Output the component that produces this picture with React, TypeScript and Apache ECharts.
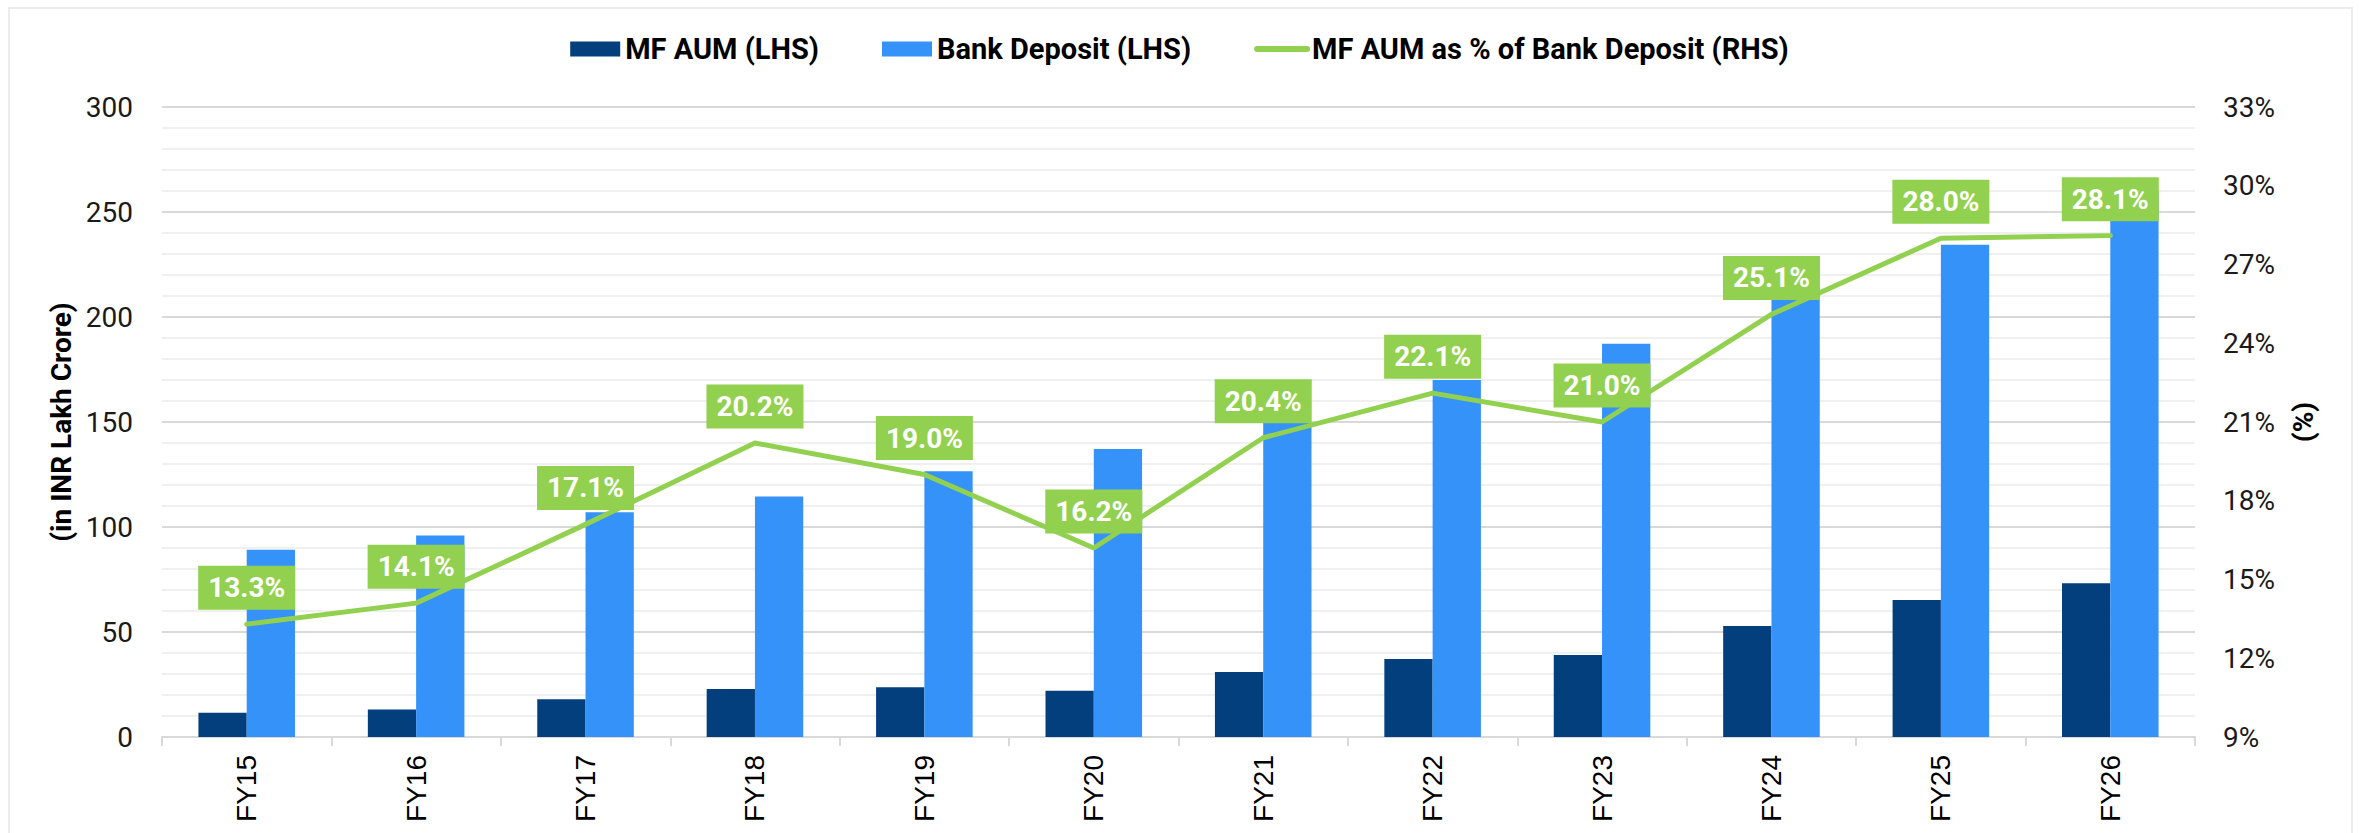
import React, { useEffect, useRef } from "react";
import * as echarts from "echarts";

const categories = ["FY15", "FY16", "FY17", "FY18", "FY19", "FY20", "FY21", "FY22", "FY23", "FY24", "FY25", "FY26"];
const mfAum = [11.6, 13.1, 18.0, 22.8, 23.7, 22.0, 31.0, 37.2, 39.0, 52.8, 65.2, 73.2];
const bankDeposit = [89.2, 95.9, 107, 114.5, 126.6, 137.1, 150, 170, 187.3, 209, 234.4, 260];
const mfPctOfDeposit = [13.3, 14.1, 17.1, 20.2, 19.0, 16.2, 20.4, 22.1, 21.0, 25.1, 28.0, 28.1];

const seriesNames = ["MF AUM (LHS)", "Bank Deposit (LHS)", "MF AUM as % of Bank Deposit (RHS)"];
const leftAxisName = "(in INR Lakh Crore)";
const rightAxisName = "(%)";

export default function App() {
  const ref = useRef<HTMLDivElement>(null);
  useEffect(() => {
    if (!ref.current) return;
    const chart = echarts.init(ref.current, null, { renderer: "svg" });
    const font = "Roboto";
    const gridTop = 107;
    const gridBottom = 96;
    const midY = (gridTop + (833 - gridBottom)) / 2;
    chart.setOption({
      animation: false,
      backgroundColor: "#ffffff",
      graphic: [
        {
          type: "rect",
          shape: { x: 9, y: 8, width: 2343, height: 840 },
          style: { fill: "none", stroke: "#ececec", lineWidth: 2 },
          silent: true,
          z: -10,
        },
        {
          type: "text",
          x: 61,
          y: midY,
          rotation: Math.PI / 2,
          style: {
            text: leftAxisName,
            fontFamily: font,
            fontSize: 28,
            fontWeight: "bold",
            fill: "#000",
            align: "center",
            verticalAlign: "middle",
          },
        },
        {
          type: "text",
          x: 2303,
          y: midY,
          rotation: Math.PI / 2,
          style: {
            text: rightAxisName,
            fontFamily: font,
            fontSize: 28,
            fontWeight: "bold",
            fill: "#000",
            align: "center",
            verticalAlign: "middle",
          },
        },
      ],
      legend: {
        top: 28,
        left: "center",
        itemWidth: 50,
        itemHeight: 15,
        itemGap: 63,
        textStyle: { fontFamily: font, fontSize: 29, fontWeight: "bold", color: "#000", lineHeight: 32 },
        data: [
          { name: seriesNames[0], icon: "rect" },
          { name: seriesNames[1], icon: "rect" },
          { name: seriesNames[2], itemStyle: { opacity: 0 }, lineStyle: { width: 6, cap: "round" } },
        ],
      },
      grid: { left: 162, right: 164, top: gridTop, bottom: gridBottom, containLabel: false },
      xAxis: {
        type: "category",
        data: categories,
        axisLine: { show: true, lineStyle: { color: "#d9d9d9", width: 2 } },
        axisTick: { show: true, length: 9, lineStyle: { color: "#d9d9d9", width: 2 } },
        axisLabel: {
          rotate: 90,
          margin: 18,
          fontFamily: "Liberation Sans",
          fontSize: 28,
          color: "#000",
        },
      },
      yAxis: [
        {
          type: "value",
          min: 0,
          max: 300,
          interval: 50,
          axisLine: { show: false },
          axisTick: { show: false },
          minorTick: { show: false, splitNumber: 5 },
          axisLabel: { fontFamily: font, fontSize: 28, color: "#1a1a1a", margin: 29 },
          splitLine: { show: true, lineStyle: { color: "#d9d9d9", width: 2 } },
          minorSplitLine: { show: true, lineStyle: { color: "#f0f0f0", width: 2 } },
        },
        {
          type: "value",
          min: 9,
          max: 33,
          interval: 3,
          axisLine: { show: false },
          axisTick: { show: false },
          splitLine: { show: false },
          axisLabel: { fontFamily: font, fontSize: 28, color: "#1a1a1a", margin: 28, formatter: "{value}%" },
        },
      ],
      series: [
        {
          name: seriesNames[0],
          type: "bar",
          data: mfAum,
          barGap: "0%",
          barCategoryGap: "43%",
          itemStyle: { color: "#033e7d" },
        },
        {
          name: seriesNames[1],
          type: "bar",
          data: bankDeposit,
          itemStyle: { color: "#3592f9" },
        },
        {
          name: seriesNames[2],
          type: "line",
          yAxisIndex: 1,
          data: mfPctOfDeposit,
          symbol: "circle",
          symbolSize: 1,
          itemStyle: { color: "#92d050" },
          lineStyle: { color: "#92d050", width: 5, cap: "round", join: "round" },
          z: 5,
          label: {
            show: true,
            position: "top",
            distance: 14,
            formatter: (p: any) => Number(p.value).toFixed(1) + "%",
            fontFamily: font,
            fontSize: 28,
            fontWeight: "bold",
            color: "#ffffff",
            lineHeight: 28,
            backgroundColor: "#92d050",
            padding: [8, 10],
          },
        },
      ],
    });
    return () => chart.dispose();
  }, []);
  return <div ref={ref} style={{ position: "absolute", left: 0, top: 0, width: 2359, height: 833 }} />;
}
